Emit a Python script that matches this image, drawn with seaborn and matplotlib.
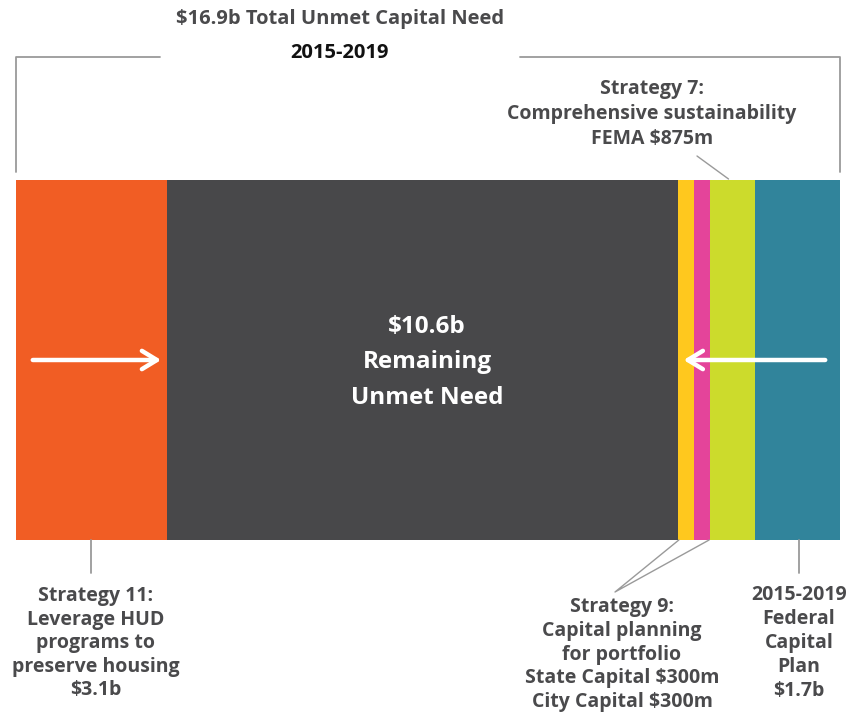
import matplotlib
matplotlib.use("Agg")
import matplotlib.pyplot as plt
import seaborn as sns
import numpy as np
import pandas as pd

# ---- data (segment widths, in $b) ----
segments = ["Strategy 11", "Remaining", "State Capital", "City Capital", "FEMA", "Federal Capital Plan"]
values_b = [3.09, 10.46, 0.33, 0.33, 0.92, 1.74]
colors = ["#F15D24", "#48484A", "#FFC81E", "#E4449A", "#CCDB2C", "#31849B"]

title_top = "$16.9b Total Unmet Capital Need"
title_years = "2015-2019"
center_lines = ["$10.6b", "Remaining", "Unmet Need"]
s7_lines = ["Strategy 7:", "Comprehensive sustainability", "FEMA $875m"]
s11_lines = ["Strategy 11:", "Leverage HUD", "programs to", "preserve housing", "$3.1b"]
s9_lines = ["Strategy 9:", "Capital planning", "for portfolio", "State Capital $300m", "City Capital $300m"]
fed_lines = ["2015-2019", "Federal", "Capital", "Plan", "$1.7b"]

sns.set_theme(style="white")
plt.rcParams["font.family"] = ["Open Sans", "DejaVu Sans"]

W, H = 859, 713
fig = plt.figure(figsize=(W / 100, H / 100), dpi=100)
fig.patch.set_facecolor("white")

# bar axes placed at pixel box x 16..840, y 180..540
bx0, bx1, by0, by1 = 16, 840, 180, 540
axb = fig.add_axes([bx0 / W, 1 - by1 / H, (bx1 - bx0) / W, (by1 - by0) / H])
cum = np.cumsum(values_b)
total = cum[-1]
df = pd.DataFrame({"seg": segments, "cum": cum, "color": colors, "row": ["need"] * len(segments)})
for i in range(len(segments) - 1, -1, -1):
    sns.barplot(x=[df["cum"][i]], y=[df["row"][i]], color=df["color"][i], saturation=1,
                width=1.0, orient="h", linewidth=0, ax=axb)
axb.set_xlim(0, total)
axb.set_ylim(0.5, -0.5)
axb.axis("off")

# overlay axes in pixel coords
ax = fig.add_axes([0, 0, 1, 1], facecolor="none")
ax.set_xlim(0, W)
ax.set_ylim(H, 0)
ax.axis("off")

def px(v):
    return bx0 + (bx1 - bx0) * v / total

grey = "#9A9A9A"
txt = "#4A4A4C"
lw = 1.3
fs = 14

# bracket
ax.plot([16, 16, 160], [172, 57, 57], color=grey, lw=lw)
ax.plot([520, 840, 840], [57, 57, 172], color=grey, lw=lw)
ax.text(340, 19, title_top, ha="center", va="center", fontsize=14.5, fontweight="bold", color=txt)
ax.text(340, 53, title_years, ha="center", va="center", fontsize=14.5, fontweight="bold", color="#111111")

# Strategy 7
for k, s in enumerate(s7_lines):
    ax.text(652, 89 + 25 * k, s, ha="center", va="center", fontsize=fs, fontweight="bold", color=txt)
fema_mid = px(cum[3] + values_b[4] / 2)
ax.plot([697, fema_mid - 4], [156, 179], color=grey, lw=1.0)

# center label
for k, s in enumerate(center_lines):
    ax.text(427, 327 + 35.5 * k, s, ha="center", va="center", fontsize=17.5, fontweight="bold", color="white")

# arrows
ax.annotate("", xy=(px(cum[0]) - 3, 360), xytext=(30, 360),
            arrowprops=dict(arrowstyle="->,head_length=0.9,head_width=0.55", color="white", lw=3.2))
ax.annotate("", xy=(px(cum[1]) + 3, 360), xytext=(828, 360),
            arrowprops=dict(arrowstyle="->,head_length=0.9,head_width=0.55", color="white", lw=3.2))

# Strategy 11
ax.plot([91, 91], [540, 573], color=grey, lw=lw)
for k, s in enumerate(s11_lines):
    ax.text(96, 596 + 23.6 * k, s, ha="center", va="center", fontsize=fs, fontweight="bold", color=txt)

# Strategy 9
ax.plot([px(cum[1]) + 1, 615, px(cum[3]) - 1], [540, 592, 540], color=grey, lw=1.0)
for k, s in enumerate(s9_lines):
    ax.text(622, 607 + 23.8 * k, s, ha="center", va="center", fontsize=fs, fontweight="bold", color=txt)

# Federal
ax.plot([799, 799], [540, 573], color=grey, lw=lw)
for k, s in enumerate(fed_lines):
    ax.text(799, 595 + 24 * k, s, ha="center", va="center", fontsize=fs, fontweight="bold", color=txt)

fig.savefig("out.png", dpi=100, facecolor="white")
